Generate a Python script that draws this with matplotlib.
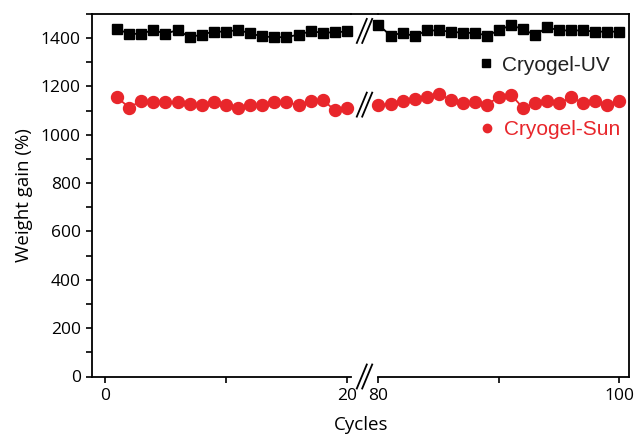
import matplotlib.pyplot as plt
from matplotlib.lines import Line2D
from matplotlib.ticker import MultipleLocator
import matplotlib.transforms as mtransforms

# data
cycles_early = list(range(1, 21))
cycles_late = list(range(80, 101))

uv_early = [1438, 1418, 1418, 1434, 1418, 1434, 1404, 1415, 1427, 1427,
            1434, 1420, 1407, 1404, 1404, 1415, 1428, 1423, 1424, 1428]
uv_late = [1455, 1411, 1422, 1408, 1432, 1432, 1427, 1422, 1422, 1411, 1432,
           1455, 1436, 1413, 1445, 1432, 1432, 1432, 1427, 1427, 1427]

sun_early = [1155, 1113, 1141, 1134, 1134, 1134, 1127, 1123, 1134, 1123,
             1111, 1124, 1123, 1134, 1134, 1124, 1138, 1144, 1102, 1113]
sun_late = [1124, 1127, 1138, 1148, 1158, 1169, 1145, 1131, 1134, 1124, 1158,
            1166, 1111, 1131, 1141, 1131, 1155, 1131, 1138, 1124, 1141]

red = '#e8262b'
tick_font = 'Open Sans'

W, H = 635, 437
fig = plt.figure(figsize=(W / 100, H / 100), dpi=100)

bottom = (H - 376.5) / H
height = (376.5 - 14) / H
ax1 = fig.add_axes([92 / W, bottom, (351 - 92) / W, height])
ax2 = fig.add_axes([378 / W, bottom, (628.5 - 378) / W, height])

for ax, xs, uv, sun in [(ax1, cycles_early, uv_early, sun_early),
                        (ax2, cycles_late, uv_late, sun_late)]:
    ax.plot(xs, uv, color='black', marker='s', markersize=7.2, lw=1.3,
            clip_on=False)
    ax.plot(xs, sun, color=red, marker='o', markersize=8.6, lw=1.3,
            clip_on=False)
    ax.set_ylim(0, 1500)
    for s in ax.spines.values():
        s.set_linewidth(1.3)
    ax.tick_params(direction='out', length=4.5, width=1.2, labelsize=12.5)
    ax.tick_params(which='minor', direction='out', length=4, width=1.2)

ax1.set_xlim(-1.07, 20.33)
ax2.set_xlim(79.96, 100.75)
ax1.set_xticks([0, 10, 20])
ax1.set_xticklabels(['0', '', '20'], fontfamily=tick_font, fontsize=12.5)
ax2.set_xticks([80, 90, 100])
ax2.set_xticklabels(['80', '', '100'], fontfamily=tick_font, fontsize=12.5)

ax1.set_yticks(range(0, 1401, 200))
ax1.set_yticklabels([str(v) for v in range(0, 1401, 200)],
                    fontfamily=tick_font, fontsize=12.5)
ax1.yaxis.set_minor_locator(MultipleLocator(100))
ax1.spines['right'].set_visible(False)

ax2.spines['left'].set_visible(False)
ax2.tick_params(axis='y', left=False, labelleft=False, which='both')

ax1.set_ylabel('Weight gain (%)', fontfamily=tick_font, fontsize=13.5,
               labelpad=6)
fig.text(361 / W, 1 - 425 / H, 'Cycles', ha='center', va='center',
         fontfamily=tick_font, fontsize=13.5)

# continuous top frame across the break
top = bottom + height
fig.add_artist(Line2D([351 / W, 378 / W], [top, top], color='black',
                      lw=1.3, transform=fig.transFigure))

# break marks //
trans = mtransforms.blended_transform_factory(ax1.transAxes, ax1.transData)
px_x = 1 / (351 - 92)
px_y = 1500 / 362.5
xc = (364.5 - 92) / (351 - 92)
for yc in [1430, 1125, 0]:
    for off in (-2.7, 2.7):
        x0 = xc + (off - 5) * px_x
        x1 = xc + (off + 5) * px_x
        ax1.plot([x0, x1], [yc - 12 * px_y, yc + 12 * px_y], color='black',
                 lw=1.3, transform=trans, clip_on=False)

# legend entries placed separately, as in the reference
h_uv = Line2D([], [], color='black', marker='s', markersize=5.8, ls='none')
h_sun = Line2D([], [], color=red, marker='o', markersize=6, ls='none')
leg_font = {'family': 'Liberation Sans', 'size': 15}
leg1 = ax2.legend([h_uv], ['Cryogel-UV'], loc='center left',
                  bbox_to_anchor=(0.388, 0.859), frameon=False, borderpad=0,
                  borderaxespad=0, handlelength=1.0, handletextpad=0.3,
                  prop=leg_font, labelcolor='#222222')
ax2.add_artist(leg1)
ax2.legend([h_sun], ['Cryogel-Sun'], loc='center left',
           bbox_to_anchor=(0.395, 0.680), frameon=False, borderpad=0,
           borderaxespad=0, handlelength=1.0, handletextpad=0.3,
           prop=leg_font, labelcolor=red)

fig.savefig('out.png', dpi=100)
